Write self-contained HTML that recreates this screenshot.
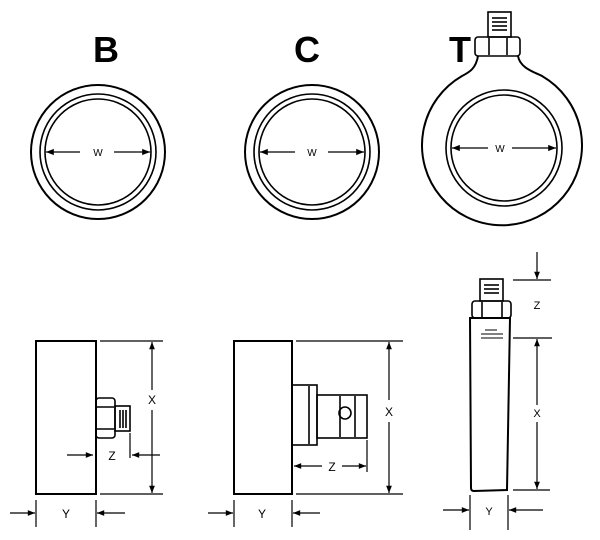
<!DOCTYPE html><html><head><style>body{margin:0;background:#fff}svg{display:block}</style></head><body>
<svg width="600" height="540" viewBox="0 0 600 540" xmlns="http://www.w3.org/2000/svg" font-family="Liberation Sans, sans-serif">
<defs><marker id="a" viewBox="0 0 10 10" refX="10" refY="5" markerWidth="7" markerHeight="6" orient="auto-start-reverse"><path d="M0,1L10,5L0,9z" fill="#000"/></marker></defs>
<g fill="none" stroke="#000" stroke-width="1.6">
<!-- B top -->
<circle cx="98" cy="152" r="67" stroke-width="2"/><circle cx="98" cy="152" r="58"/><circle cx="98" cy="152" r="53"/>
<!-- C top -->
<circle cx="312" cy="152" r="67" stroke-width="2"/><circle cx="312" cy="152" r="58"/><circle cx="312" cy="152" r="53"/>
<!-- T top -->
<path d="M478,56 C476,68 470,72 462,76 A80,80 0 1 0 542,76 C534,72 520,68 518,56" stroke-width="2"/>
<rect x="475" y="37" width="45" height="19" rx="3"/><line x1="489" y1="38" x2="489" y2="55"/><line x1="507" y1="38" x2="507" y2="55"/>
<rect x="488" y="12" width="23" height="25"/>
<line x1="492" y1="18" x2="507" y2="18"/><line x1="492" y1="22" x2="507" y2="22"/><line x1="492" y1="26" x2="507" y2="26"/><line x1="492" y1="30" x2="507" y2="30"/>
<circle cx="504" cy="148" r="58"/><circle cx="504" cy="148" r="53"/>
</g>
<g stroke="#000" stroke-width="1.3" fill="none">
<line x1="46" y1="152" x2="80" y2="152" marker-start="url(#a)"/><line x1="114" y1="152" x2="150" y2="152" marker-end="url(#a)"/>
<line x1="260" y1="152" x2="295" y2="152" marker-start="url(#a)"/><line x1="328" y1="152" x2="364" y2="152" marker-end="url(#a)"/>
<line x1="452" y1="148" x2="488" y2="148" marker-start="url(#a)"/><line x1="512" y1="148" x2="556" y2="148" marker-end="url(#a)"/>
</g>
<g font-size="10" text-anchor="middle"><text x="98" y="156">W</text><text x="312" y="156">W</text><text x="500" y="152">W</text></g>
<g font-size="36" font-weight="bold" text-anchor="middle"><text x="106" y="62">B</text><text x="307" y="62">C</text><text x="460" y="62">T</text></g>
<!-- B bottom -->
<g fill="none" stroke="#000" stroke-width="1.6">
<rect x="36" y="341" width="60" height="153" stroke-width="2"/>
<rect x="96" y="398" width="19" height="40" rx="3"/><line x1="97" y1="407" x2="114" y2="407"/><line x1="97" y1="429" x2="114" y2="429"/>
<rect x="115" y="406" width="15" height="25"/><line x1="120" y1="410" x2="120" y2="428"/><line x1="123" y1="410" x2="123" y2="428"/><line x1="126" y1="410" x2="126" y2="428"/>
</g>
<g stroke="#000" stroke-width="1.2" fill="none">
<line x1="100" y1="341" x2="163" y2="341"/><line x1="100" y1="494" x2="163" y2="494"/>
<line x1="152" y1="390" x2="152" y2="342" marker-end="url(#a)"/><line x1="152" y1="410" x2="152" y2="493" marker-end="url(#a)"/>
<line x1="67" y1="455" x2="93" y2="455" marker-end="url(#a)"/><line x1="130" y1="433" x2="130" y2="458"/><line x1="160" y1="455" x2="132" y2="455" marker-end="url(#a)"/>
<line x1="36" y1="500" x2="36" y2="527"/><line x1="96" y1="500" x2="96" y2="527"/>
<line x1="10" y1="513" x2="35" y2="513" marker-end="url(#a)"/><line x1="125" y1="513" x2="97" y2="513" marker-end="url(#a)"/>
</g>
<!-- C bottom -->
<g fill="none" stroke="#000" stroke-width="1.6">
<rect x="234" y="341" width="58" height="153" stroke-width="2"/>
<rect x="292" y="385" width="25" height="60"/><line x1="309" y1="386" x2="309" y2="444"/>
<rect x="317" y="395" width="50" height="43"/><line x1="340" y1="396" x2="340" y2="437"/><line x1="355" y1="396" x2="355" y2="437"/>
<circle cx="345" cy="413" r="6"/>
</g>
<g stroke="#000" stroke-width="1.2" fill="none">
<line x1="296" y1="341" x2="403" y2="341"/><line x1="296" y1="494" x2="403" y2="494"/>
<line x1="389" y1="400" x2="389" y2="342" marker-end="url(#a)"/><line x1="389" y1="422" x2="389" y2="493" marker-end="url(#a)"/>
<line x1="367" y1="440" x2="367" y2="472"/>
<line x1="322" y1="466" x2="294" y2="466" marker-end="url(#a)"/><line x1="342" y1="466" x2="366" y2="466" marker-end="url(#a)"/>
<line x1="234" y1="500" x2="234" y2="527"/><line x1="292" y1="500" x2="292" y2="527"/>
<line x1="208" y1="513" x2="233" y2="513" marker-end="url(#a)"/><line x1="320" y1="513" x2="293" y2="513" marker-end="url(#a)"/>
</g>
<!-- T bottom -->
<g fill="none" stroke="#000" stroke-width="1.6">
<path d="M470,318 L471,488 Q471,491 474,491 L507,490 L510,318 Z" stroke-width="2"/>
<rect x="472" y="301" width="39" height="17" rx="3"/><line x1="482" y1="302" x2="482" y2="317"/><line x1="502" y1="302" x2="502" y2="317"/>
<rect x="480" y="279" width="23" height="22"/>
<line x1="484" y1="285" x2="499" y2="285"/><line x1="484" y1="289" x2="499" y2="289"/><line x1="484" y1="293" x2="499" y2="293"/>
<line x1="485" y1="330" x2="497" y2="330" stroke-width="1"/><line x1="481" y1="334" x2="503" y2="334" stroke-width="1"/><line x1="481" y1="338" x2="503" y2="338" stroke-width="1"/>
</g>
<g stroke="#000" stroke-width="1.2" fill="none">
<line x1="513" y1="280" x2="551" y2="280"/><line x1="537" y1="252" x2="537" y2="279" marker-end="url(#a)"/>
<line x1="513" y1="338" x2="552" y2="338"/><line x1="513" y1="490" x2="550" y2="490"/>
<line x1="537" y1="405" x2="537" y2="339" marker-end="url(#a)"/><line x1="537" y1="422" x2="537" y2="489" marker-end="url(#a)"/>
<line x1="470" y1="495" x2="470" y2="530"/><line x1="508" y1="495" x2="508" y2="530"/>
<line x1="443" y1="510" x2="469" y2="510" marker-end="url(#a)"/><line x1="543" y1="510" x2="509" y2="510" marker-end="url(#a)"/>
</g>
<g font-size="12" text-anchor="middle">
<text x="152" y="404">X</text><text x="112" y="460">Z</text><text x="66" y="518">Y</text>
<text x="389" y="416">X</text><text x="332" y="471">Z</text><text x="262" y="518">Y</text>
<text x="537" y="309" font-size="11">Z</text><text x="537" y="417" font-size="11">X</text><text x="489" y="515" font-size="11">Y</text>
</g>
</svg></body></html>
